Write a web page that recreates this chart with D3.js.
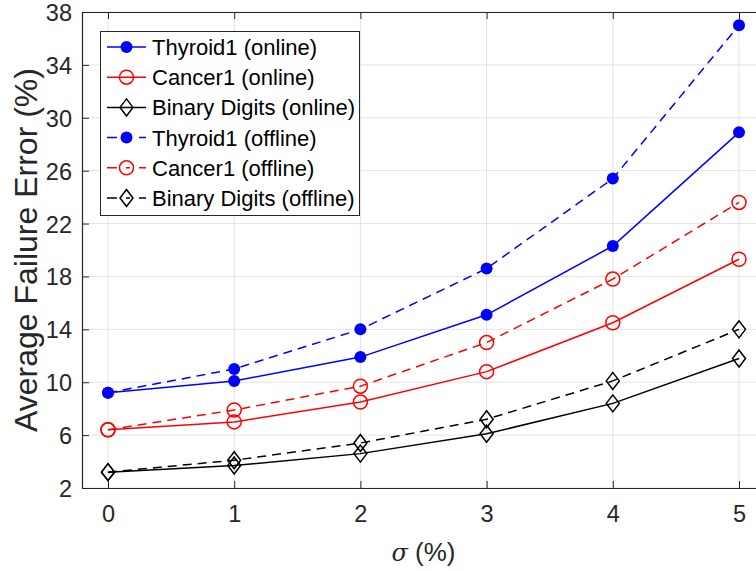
<!DOCTYPE html>
<html>
<head>
<meta charset="utf-8">
<script src="https://cdn.jsdelivr.net/npm/d3@7"></script>
<style>
  body { margin: 0; background: #fff; overflow: hidden; }
  text { font-family: "Liberation Sans", Arial, sans-serif; }
</style>
</head>
<body>
<div id="container"></div>
<script>
/* DATA */
const sigma = [0, 1, 2, 3, 4, 5];
const thyroidOnline = [9.2, 10.1, 11.9, 15.1, 20.3, 28.9];
const cancerOnline = [6.4, 7.0, 8.5, 10.8, 14.5, 19.3];
const binaryOnline = [3.2, 3.7, 4.6, 6.1, 8.4, 11.8];
const thyroidOffline = [9.2, 11.0, 14.0, 18.6, 25.4, 37.0];
const cancerOffline = [6.4, 7.9, 9.7, 13.0, 17.8, 23.6];
const binaryOffline = [3.2, 4.1, 5.4, 7.2, 10.1, 14.0];
const yTicks = [2, 6, 10, 14, 18, 22, 26, 30, 34, 38];
const xTicks = [0, 1, 2, 3, 4, 5];

const series = [
  { name: "Thyroid1 (online)", values: thyroidOnline, color: "#0000ff", marker: "dot", dash: null },
  { name: "Cancer1 (online)", values: cancerOnline, color: "#ff0000", marker: "circle", dash: null },
  { name: "Binary Digits (online)", values: binaryOnline, color: "#000000", marker: "diamond", dash: null },
  { name: "Thyroid1 (offline)", values: thyroidOffline, color: "#0000ff", marker: "dot", dash: "9,6" },
  { name: "Cancer1 (offline)", values: cancerOffline, color: "#ff0000", marker: "circle", dash: "9,6" },
  { name: "Binary Digits (offline)", values: binaryOffline, color: "#000000", marker: "diamond", dash: "9,6" }
];

/* CONSTANTS */
const width = 756, height = 571;
const plot = { left: 82, right: 765, top: 12, bottom: 488 };
const axisColor = "#262626";

const svg = d3.select("#container")
  .append("svg")
  .attr("width", width)
  .attr("height", height);

const x = d3.scaleLinear().domain([-0.206, 5.206]).range([plot.left, plot.right]);
const y = d3.scaleLinear().domain([2, 38]).range([plot.bottom, plot.top]);

// GRID
svg.append("g")
  .selectAll("line")
  .data(xTicks)
  .join("line")
  .attr("x1", d => x(d)).attr("x2", d => x(d))
  .attr("y1", y(2)).attr("y2", y(38))
  .attr("stroke", "#e3e3e3").attr("stroke-width", 1);
svg.append("g")
  .selectAll("line")
  .data(yTicks)
  .join("line")
  .attr("y1", d => y(d)).attr("y2", d => y(d))
  .attr("x1", plot.left).attr("x2", plot.right)
  .attr("stroke", "#e3e3e3").attr("stroke-width", 1);

// AXES
const xAxis = svg.append("g")
  .attr("transform", `translate(0,${plot.bottom})`)
  .call(d3.axisBottom(x).tickValues(xTicks).tickFormat(d3.format("d")).tickSize(-7).tickPadding(17).tickSizeOuter(0));
const xAxisTop = svg.append("g")
  .attr("transform", `translate(0,${plot.top})`)
  .call(d3.axisTop(x).tickValues(xTicks).tickSize(-7).tickFormat("").tickSizeOuter(0));
const yAxis = svg.append("g")
  .attr("transform", `translate(${plot.left},0)`)
  .call(d3.axisLeft(y).tickValues(yTicks).tickSize(-7).tickPadding(10).tickSizeOuter(0));

[xAxis, xAxisTop, yAxis].forEach(g => {
  g.select(".domain").attr("stroke", axisColor).attr("stroke-width", 1.2);
  g.selectAll(".tick line").attr("stroke", axisColor);
  g.selectAll(".tick text").attr("fill", axisColor).style("font-size", "23.5px")
    .style("font-family", "'Liberation Sans', Arial, sans-serif");
});
yAxis.selectAll(".tick text").attr("dy", "0.36em");

// AXIS LABELS
const xl = svg.append("text")
  .attr("x", x(2.5))
  .attr("y", 561)
  .attr("text-anchor", "middle")
  .attr("fill", axisColor)
  .style("font-size", "26px");
xl.append("tspan").style("font-style", "italic").style("font-family", "'DejaVu Serif', serif").style("font-size", "24px").text("σ");
xl.append("tspan").text(" (%)");

svg.append("text")
  .attr("transform", `translate(37,${y(20)}) rotate(-90)`)
  .attr("text-anchor", "middle")
  .attr("fill", axisColor)
  .style("font-size", "32px")
  .text("Average Failure Error (%)");

// MARKER DRAWER
function drawMarker(g, type, color, cx, cy) {
  if (type === "dot") {
    g.append("circle").attr("cx", cx).attr("cy", cy).attr("r", 6).attr("fill", color);
  } else if (type === "circle") {
    g.append("circle").attr("cx", cx).attr("cy", cy).attr("r", 7)
      .attr("fill", "none").attr("stroke", color).attr("stroke-width", 1.5);
  } else {
    g.append("path")
      .attr("d", `M${cx},${cy - 8.5}L${cx + 6.5},${cy}L${cx},${cy + 8.5}L${cx - 6.5},${cy}Z`)
      .attr("fill", "none").attr("stroke", color).attr("stroke-width", 1.5);
  }
}

// LINES
const line = d3.line().x((d, i) => x(sigma[i])).y(d => y(d));
series.forEach(s => {
  const g = svg.append("g");
  g.append("path")
    .datum(s.values)
    .attr("d", line)
    .attr("fill", "none")
    .attr("stroke", s.color)
    .attr("stroke-width", 1.5)
    .attr("stroke-dasharray", s.dash);
  s.values.forEach((v, i) => drawMarker(g, s.marker, s.color, x(sigma[i]), y(v)));
});

// LEGEND
const legend = svg.append("g");
legend.append("rect")
  .attr("x", 100.5).attr("y", 31.5)
  .attr("width", 259).attr("height", 184)
  .attr("fill", "#fff").attr("stroke", axisColor).attr("stroke-width", 1);
series.forEach((s, i) => {
  const ly = 47 + i * 30.2;
  legend.append("line")
    .attr("x1", 107).attr("x2", 146)
    .attr("y1", ly).attr("y2", ly)
    .attr("stroke", s.color).attr("stroke-width", 1.5)
    .attr("stroke-dasharray", s.dash ? "10,9,4,9" : null);
  drawMarker(legend, s.marker, s.color, 126.5, ly);
  legend.append("text")
    .attr("x", 152).attr("y", ly)
    .attr("dy", "0.36em")
    .attr("fill", "#000")
    .style("font-size", "22px")
    .text(s.name);
});
</script>
</body>
</html>
